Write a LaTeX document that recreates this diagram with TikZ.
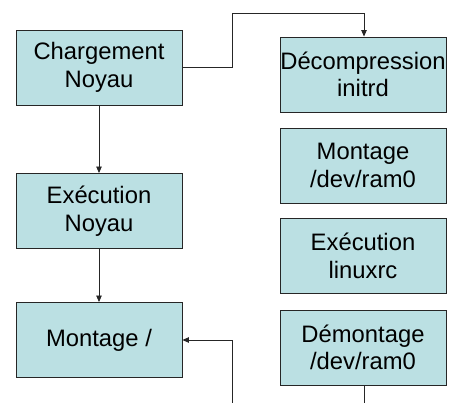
\documentclass[tikz,border=0pt]{standalone}
\usepackage{fontspec}
\setmainfont{Liberation Sans}
\usetikzlibrary{arrows.meta}
\definecolor{boxfill}{HTML}{BBE0E3}
\tikzset{
  stepbox/.style={draw=black!85, line width=0.9pt, fill=boxfill, minimum width=166pt,
    minimum height=75pt, align=center, font=\fontsize{23.8}{27.5}\selectfont, inner sep=0pt},
  flow/.style={draw=black!85, line width=0.8pt, -{Triangle[length=6.5pt,width=5.5pt]}},
  plain/.style={draw=black!85, line width=0.8pt}
}
\begin{document}
\begin{tikzpicture}[x=1pt,y=-1pt]
\useasboundingbox (0,0) rectangle (450,403);
% left column
\node[stepbox] (charg) at (99,67.5) {Chargement\\Noyau};
\node[stepbox] (execn) at (99,211) {Exécution\\Noyau};
\node[stepbox] (mont) at (99,340) {Montage /};
% right column (initrd stage)
\node[stepbox] (decomp) at (363,74.5) {Décompression\\initrd};
\node[stepbox] (montram) at (363,165.5) {Montage\\/dev/ram0};
\node[stepbox] (execl) at (363,256) {Exécution\\linuxrc};
\node[stepbox] (demont) at (363,347.5) {Démontage\\/dev/ram0};
% loose ends at the lower border
\coordinate (outR) at (364,403);
\coordinate (inL) at (232,403);
% connectors
\draw[flow] (charg.east) -- (232,67.5) |- (364,13) -- (decomp.north -| 364,0);
\draw[flow] (charg.south) -- (execn.north);
\draw[flow] (execn.south) -- (mont.north);
\draw[plain] (demont.south -| outR) -- (outR);
\draw[flow] (inL) |- (mont.east);
\end{tikzpicture}
\end{document}
